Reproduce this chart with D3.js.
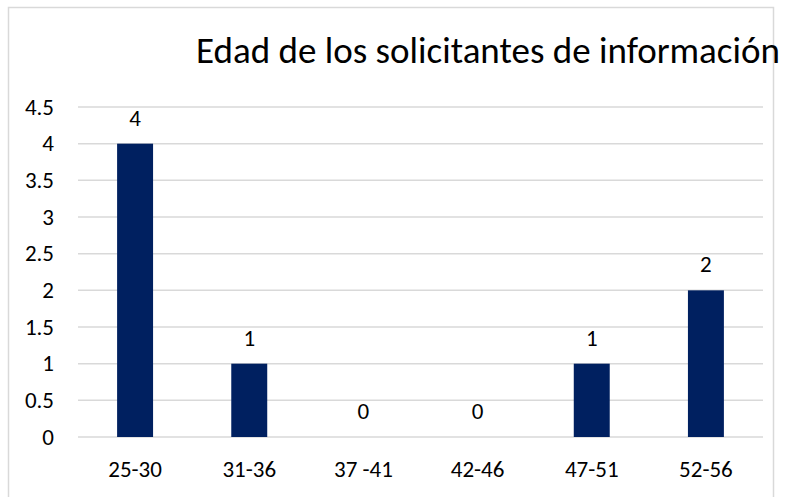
<html>
<head>
<script src="https://d3js.org/d3.v7.min.js"></script>
<style>
  body { margin: 0; background: white; }
  svg { display: block; }
  .lbl { font-family: Calibri, Carlito, Lato, sans-serif; fill: #000; }
</style>
</head>
<body>
<svg width="792" height="497"></svg>
<script>
  var categories = ["25-30", "31-36", "37 -41", "42-46", "47-51", "52-56"];
  var values = [4, 1, 0, 0, 1, 2];
  var yTicks = [0, 0.5, 1, 1.5, 2, 2.5, 3, 3.5, 4, 4.5];
  var title = "Edad de los solicitantes de información";

  var svg = d3.select("svg");
  var plotLeft = 78, plotRight = 763, plotTop = 107, plotBottom = 437;

  // chart border
  svg.append("rect")
    .attr("x", 8.5).attr("y", 7.5)
    .attr("width", 765).attr("height", 500)
    .attr("fill", "white").attr("stroke", "#d9d9d9").attr("stroke-width", 1.5);

  var xs = d3.scaleBand().domain(categories).range([plotLeft, plotRight]).paddingInner(0.685).paddingOuter(0.3425);
  var ys = d3.scaleLinear().domain([0, 4.5]).range([plotBottom, plotTop]);

  // gridlines
  svg.append("g")
    .selectAll("line").data(yTicks).enter()
    .append("line")
    .attr("x1", plotLeft).attr("x2", plotRight)
    .attr("y1", d => ys(d)).attr("y2", d => ys(d))
    .attr("stroke", "#d9d9d9").attr("stroke-width", 1.5);

  // y tick labels
  svg.append("g")
    .selectAll("text").data(yTicks).enter()
    .append("text")
    .attr("class", "lbl")
    .attr("x", 54).attr("y", d => ys(d) + 7.5)
    .attr("text-anchor", "end")
    .style("font-size", "23px")
    .text(d => d);

  // bars
  svg.append("g")
    .selectAll("rect").data(values).enter()
    .append("rect")
    .attr("x", (d, i) => xs(categories[i]))
    .attr("width", xs.bandwidth())
    .attr("y", d => ys(d))
    .attr("height", d => plotBottom - ys(d))
    .attr("fill", "#002060");

  // value labels
  svg.append("g")
    .selectAll("text").data(values).enter()
    .append("text")
    .attr("class", "lbl")
    .attr("x", (d, i) => xs(categories[i]) + xs.bandwidth() / 2)
    .attr("y", d => ys(d) - 18)
    .attr("text-anchor", "middle")
    .style("font-size", "23px")
    .text(d => d);

  // x category labels
  svg.append("g")
    .selectAll("text").data(categories).enter()
    .append("text")
    .attr("class", "lbl")
    .attr("x", d => xs(d) + xs.bandwidth() / 2)
    .attr("y", 477)
    .attr("text-anchor", "middle")
    .style("font-size", "23px")
    .text(d => d);

  // title
  svg.append("text")
    .attr("class", "lbl")
    .attr("x", 488).attr("y", 63)
    .attr("text-anchor", "middle")
    .style("font-size", "37px")
    .text(title);
</script>
</body>
</html>
